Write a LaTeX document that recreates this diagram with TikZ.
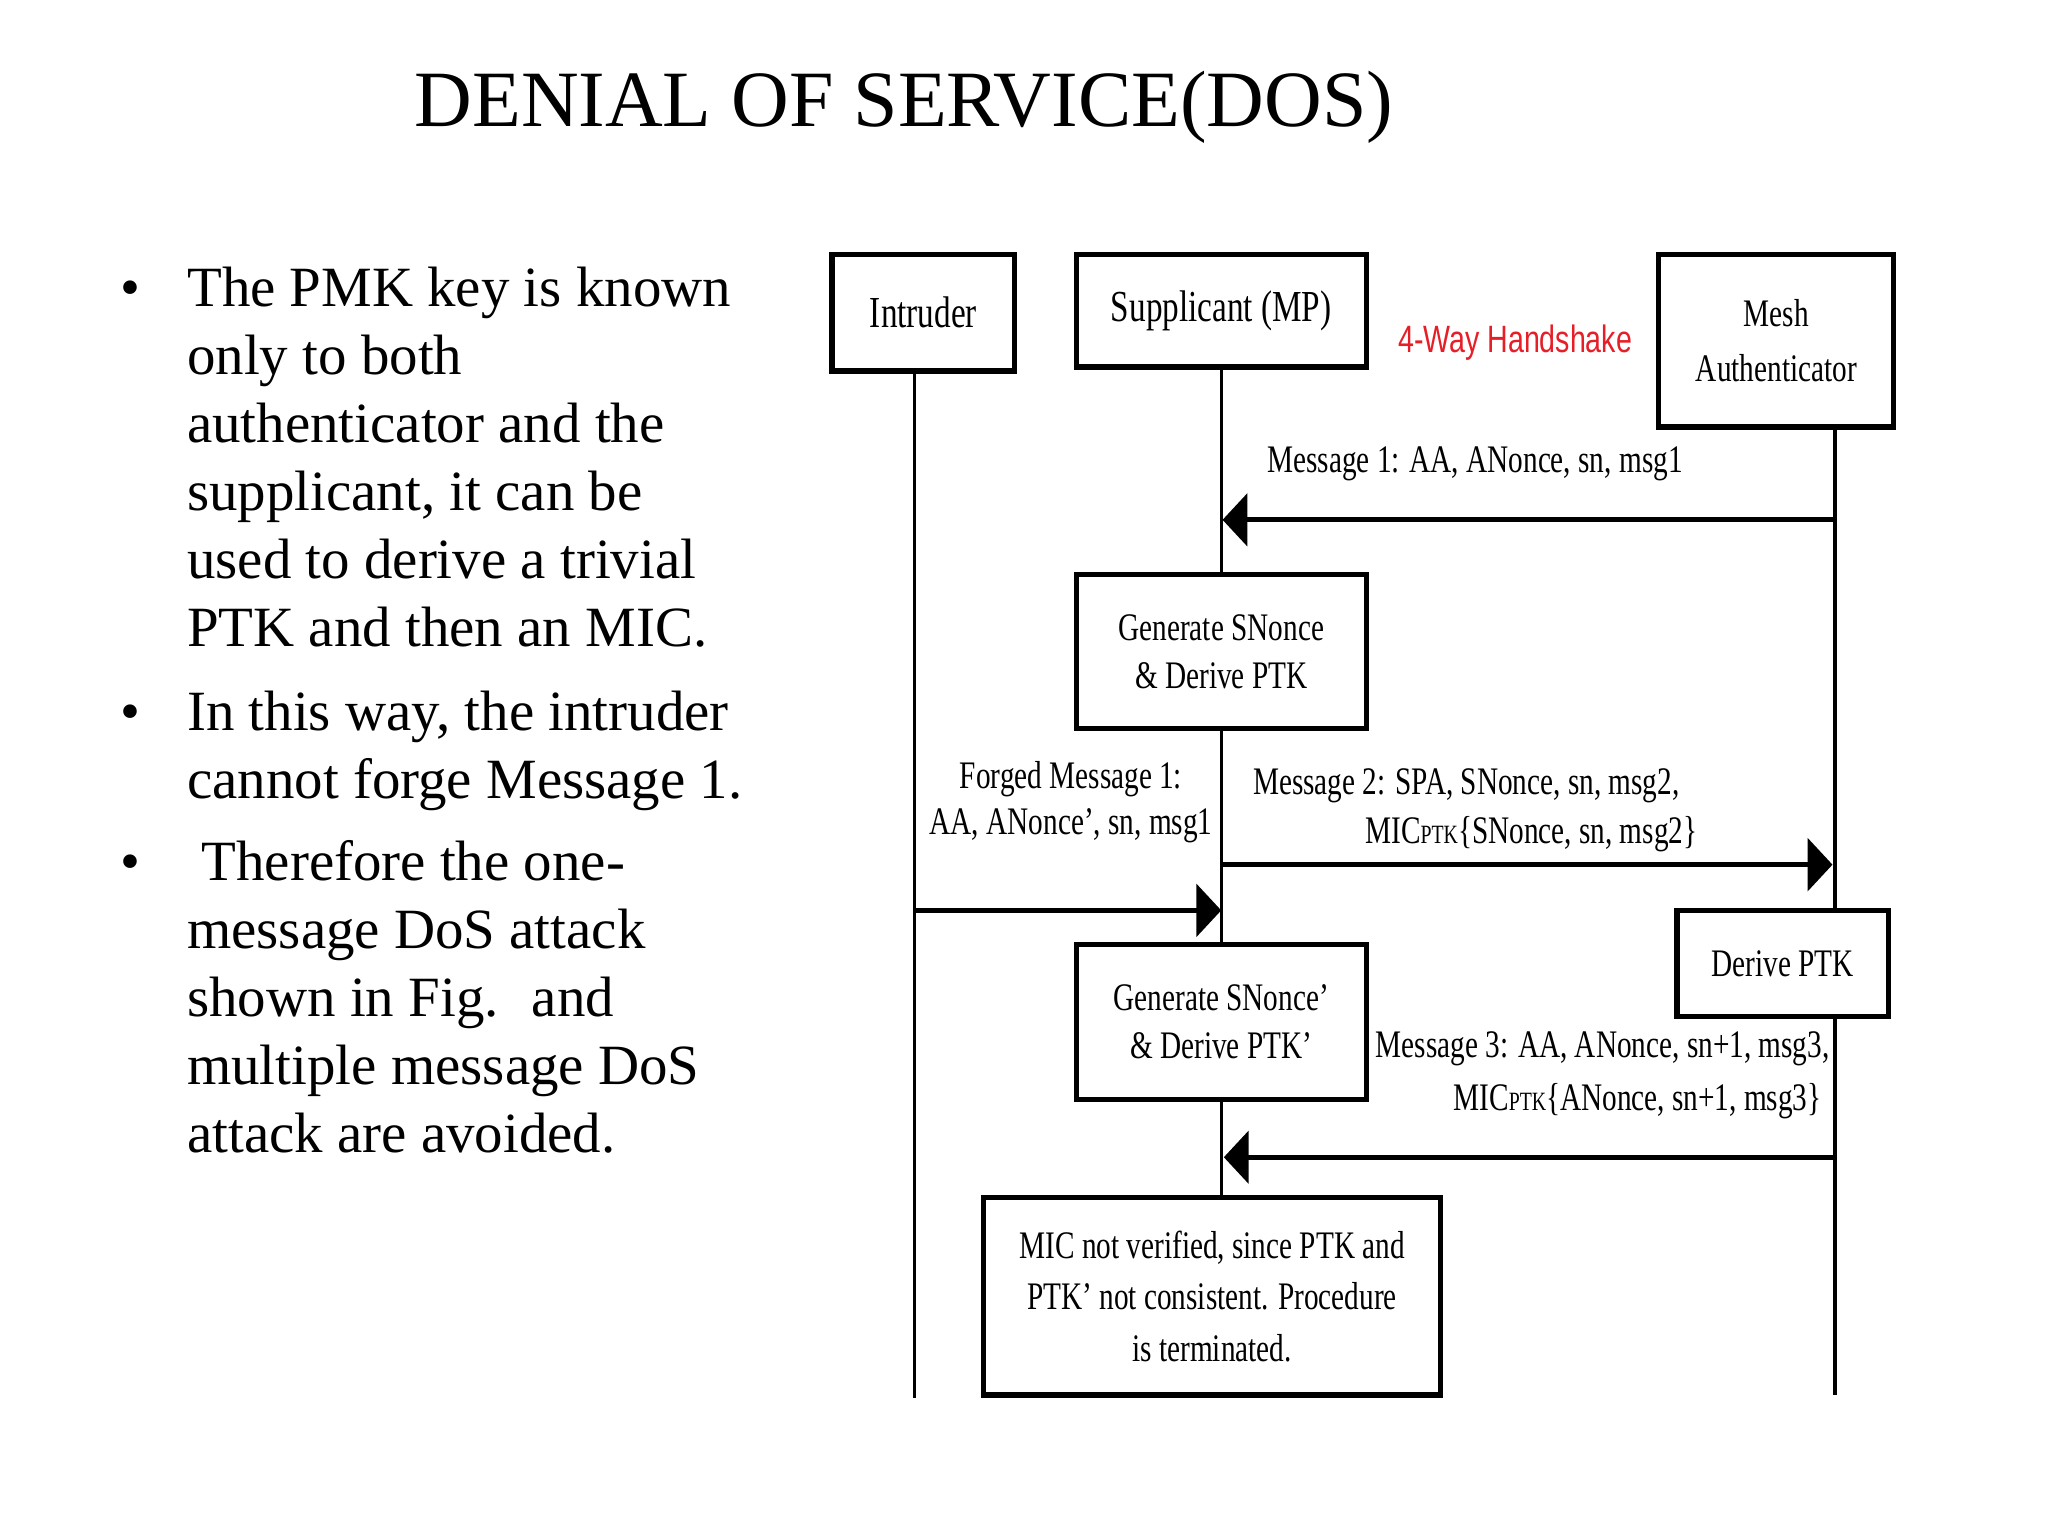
\documentclass[tikz,border=0pt]{standalone}
\usepackage{fontspec}
\setmainfont{Liberation Serif}
\newfontfamily\cond[FakeStretch=0.75]{Liberation Serif}
\newfontfamily\condsans[FakeStretch=0.75]{Liberation Sans}
\usetikzlibrary{arrows.meta}
\definecolor{hsred}{RGB}{230,30,40}
\newcommand\micsub{{\fontsize{11.5}{12}\selectfont PTK}}
\begin{document}
\begin{tikzpicture}[x=0.02cm,y=-0.02cm,
  box/.style={draw=black, line width=0.08cm, fill=white, inner sep=0pt, align=center, font=\cond\fontsize{17}{21}\selectfont},
  hdr/.style={box, font=\cond\fontsize{19.3}{24}\selectfont},
  life/.style={line width=0.05cm},
  msg/.style={line width=0.075cm, -{Triangle[length=0.38cm,width=0.8cm]}},
  lbl/.style={inner sep=0pt, font=\cond\fontsize{17}{20}\selectfont},
  body/.style={inner sep=0pt, font=\fontsize{24.8}{29.6}\selectfont},
]
\useasboundingbox (0,0) rectangle (1568,1176);

% title
\node[inner sep=0pt, anchor=base, font=\fontsize{34.8}{40}\selectfont] (title) at (692,97) {DENIAL OF SERVICE(DOS)};

% bullets
\node[body, anchor=base] (b1) at (100,235) {•};
\node[body, anchor=base west] (t1) at (143,235) {\parbox[t]{12cm}{The PMK key is known\\only to both\\authenticator and the\\supplicant, it can be\\used to derive a trivial\\PTK and then an MIC.}};
\node[body, anchor=base] (b2) at (100,559) {•};
\node[body, anchor=base west] (t2) at (143,559) {\parbox[t]{12cm}{In this way, the intruder\\cannot forge Message 1.}};
\node[body, anchor=base] (b3) at (100,674) {•};
\node[body, anchor=base west] (t3) at (143,674) {\parbox[t]{12cm}{\hspace*{0.22cm}Therefore the one-\\message DoS attack\\shown in Fig.~ and\\multiple message DoS\\attack are avoided.}};

% boxes
\node[hdr, minimum width=2.8cm, minimum height=1.78cm] (intr) at (707,239.5) {Intruder};
\node[hdr, minimum width=4.44cm, minimum height=1.72cm] (supp) at (935,238) {\raisebox{-2pt}{Supplicant (MP)}};
\node[box, minimum width=3.6cm, minimum height=2.64cm, font=\cond\fontsize{17}{24}\selectfont] (auth) at (1360,261) {Mesh\\Authenticator};
\node[box, minimum width=4.44cm, minimum height=2.36cm] (gen1) at (935,499) {Generate SNonce\\\& Derive PTK};
\node[box, minimum width=4.44cm, minimum height=2.38cm] (gen2) at (935,782.5) {Generate SNonce’\\\& Derive PTK’};
\node[box, minimum width=3.24cm, minimum height=1.62cm] (dptk) at (1365,737.5) {Derive PTK};
\node[box, minimum width=7cm, minimum height=3.02cm, font=\cond\fontsize{17}{22.5}\selectfont] (mic) at (928,992.5) {MIC not verified, since PTK and\\PTK’ not consistent. Procedure\\is terminated.};

\node[inner sep=0pt, text=hsred, font=\condsans\fontsize{16.6}{18}\selectfont] (hs) at (1160,262) {4-Way Handshake};

% lifelines
\coordinate (iend) at (700,1070);
\coordinate (aend) at (1405,1068);
\draw[life] (intr.south -| iend) -- (iend);
\draw[life] (supp.south) -- (gen1.north);
\draw[life] (gen1.south) -- (gen2.north);
\draw[life] (gen2.south) -- (gen2.south |- mic.north);
\draw[life] (auth.south -| aend) -- (dptk.north -| aend);
\draw[life] (dptk.south -| aend) -- (aend);

% messages
\coordinate (m1a) at (1403,398); \coordinate (m1b) at (936,398);
\coordinate (m2a) at (936,662);  \coordinate (m2b) at (1403,662);
\coordinate (fa) at (701,697);   \coordinate (fb) at (935,697);
\coordinate (m3a) at (1403,886); \coordinate (m3b) at (937,886);
\draw[msg] (m1a) -- (m1b);
\draw[msg] (m2a) -- (m2b);
\draw[msg] (fa) -- (fb);
\draw[msg] (m3a) -- (m3b);

% labels
\node[lbl, anchor=base west] (m1l) at (970,362) {Message 1: AA, ANonce, sn, msg1};
\node[lbl, anchor=base west] (m2l1) at (959,608) {Message 2: SPA, SNonce, sn, msg2,};
\node[lbl, anchor=base west] (m2l2) at (1045,646) {MIC\micsub\{SNonce, sn, msg2\}};
\node[lbl, align=center] (fl) at (820,614) {Forged Message 1:\\AA, ANonce’, sn, msg1};
\node[lbl, anchor=base west] (m3l1) at (1053,810) {Message 3: AA, ANonce, sn+1, msg3,};
\node[lbl, anchor=base east] (m3l2) at (1395,850) {MIC\micsub\{ANonce, sn+1, msg3\}};
\end{tikzpicture}
\end{document}
